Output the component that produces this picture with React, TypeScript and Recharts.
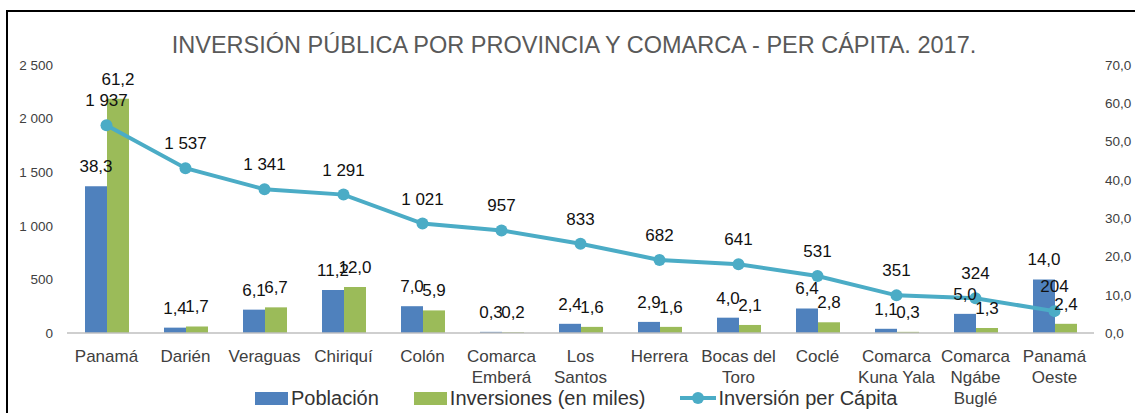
import { ComposedChart, Bar, Line, XAxis, YAxis, LabelList, Legend } from 'recharts';

const FONT = '"Liberation Sans", Arial, sans-serif';

const categories = [
  'Panamá',
  'Darién',
  'Veraguas',
  'Chiriquí',
  'Colón',
  'Comarca\nEmberá',
  'Los\nSantos',
  'Herrera',
  'Bocas del\nToro',
  'Coclé',
  'Comarca\nKuna Yala',
  'Comarca\nNgábe\nBuglé',
  'Panamá\nOeste',
];
const poblacion = [38.3, 1.4, 6.1, 11.2, 7.0, 0.3, 2.4, 2.9, 4.0, 6.4, 1.1, 5.0, 14.0];
const inversiones = [61.2, 1.7, 6.7, 12.0, 5.9, 0.2, 1.6, 1.6, 2.1, 2.8, 0.3, 1.3, 2.4];
const perCapita = [1937, 1537, 1341, 1291, 1021, 957, 833, 682, 641, 531, 351, 324, 204];
const leftTicks = [0, 500, 1000, 1500, 2000, 2500];
const rightTicks = [0, 10, 20, 30, 40, 50, 60, 70];

const BLUE = '#4F81BD';
const GREEN = '#9BBB59';
const TEAL = '#4BACC6';

const data = categories.map((name, i) => ({
  name,
  poblacion: poblacion[i],
  inversiones: inversiones[i],
  perCapita: perCapita[i],
}));

const thousands = (v: number) => String(v).replace(/\B(?=(\d{3})+(?!\d))/g, ' ');
const decimal = (v: number) => v.toFixed(1).replace('.', ',');

function CategoryTick({ x, y, payload }: any) {
  const lines = String(payload.value).split('\n');
  return (
    <text x={x} y={y} textAnchor="middle" fill="#404040" fontSize={17} fontFamily={FONT}>
      {lines.map((l, i) => (
        <tspan key={i} x={x} dy={21}>
          {l}
        </tspan>
      ))}
    </text>
  );
}

function LegendContent() {
  const item = { display: 'flex', alignItems: 'center', marginRight: 35 } as const;
  return (
    <div
      style={{
        display: 'flex',
        alignItems: 'center',
        height: 26,
        marginLeft: 255,
        fontFamily: FONT,
        fontSize: 20,
        color: '#333',
      }}
    >
      <div style={item}>
        <div style={{ width: 33, height: 13, background: BLUE, marginRight: 3 }} />
        Población
      </div>
      <div style={item}>
        <div style={{ width: 33, height: 13, background: GREEN, marginRight: 3 }} />
        Inversiones (en miles)
      </div>
      <div style={item}>
        <svg width={36} height={14} style={{ marginRight: 2 }}>
          <line x1={0} y1={7} x2={36} y2={7} stroke={TEAL} strokeWidth={4} />
          <circle cx={18} cy={7} r={6} fill={TEAL} />
        </svg>
        Inversión per Cápita
      </div>
    </div>
  );
}

export default function App() {
  return (
    <div style={{ position: 'absolute', left: 0, top: 0, width: 1135, height: 413, background: '#fff', overflow: 'hidden' }}>
      <div
        style={{
          position: 'absolute',
          left: 6,
          top: 10,
          width: 2000,
          height: 1000,
          borderLeft: '2px solid #000',
          borderTop: '2px solid #000',
        }}
      />
      <div
        style={{
          position: 'absolute',
          left: 0,
          top: 33,
          width: 1148,
          textAlign: 'center',
          fontFamily: FONT,
          fontSize: 23.5,
          lineHeight: '24px',
          color: '#595959',
          whiteSpace: 'nowrap',
        }}
      >
        INVERSIÓN PÚBLICA POR PROVINCIA Y COMARCA - PER CÁPITA. 2017.
      </div>
      <div style={{ position: 'absolute', left: 0, top: 0 }}>
        <ComposedChart
          width={1135}
          height={413}
          data={data}
          margin={{ top: 65, right: 0, left: 0, bottom: 2 }}
          barGap={0}
        >
          <XAxis
            dataKey="name"
            interval={0}
            tick={<CategoryTick />}
            tickLine={false}
            axisLine={{ stroke: '#BFBFBF', strokeWidth: 1.5 }}
            height={52}
          />
          <YAxis
            yAxisId="left"
            orientation="left"
            domain={[0, 2500]}
            ticks={leftTicks}
            tickFormatter={thousands}
            width={67}
            axisLine={false}
            tickLine={false}
            tickMargin={8}
            tick={{ fill: '#404040', fontSize: 13.5, fontFamily: FONT }}
          />
          <YAxis
            yAxisId="right"
            orientation="right"
            domain={[0, 70]}
            ticks={rightTicks}
            tickFormatter={decimal}
            width={41}
            axisLine={false}
            tickLine={false}
            tickMargin={5}
            tick={{ fill: '#404040', fontSize: 13.5, fontFamily: FONT }}
          />
          <Legend verticalAlign="bottom" height={26} content={<LegendContent />} />
          <Bar yAxisId="right" dataKey="poblacion" name="Población" fill={BLUE} barSize={22} isAnimationActive={false}>
            <LabelList
              dataKey="poblacion"
              position="top"
              offset={14}
              formatter={(v: any) => decimal(Number(v))}
              style={{ fill: '#111', fontSize: 17, fontFamily: FONT }}
            />
          </Bar>
          <Bar yAxisId="right" dataKey="inversiones" name="Inversiones (en miles)" fill={GREEN} barSize={22} isAnimationActive={false}>
            <LabelList
              dataKey="inversiones"
              position="top"
              offset={14}
              formatter={(v: any) => decimal(Number(v))}
              style={{ fill: '#111', fontSize: 17, fontFamily: FONT }}
            />
          </Bar>
          <Line
            yAxisId="left"
            type="linear"
            dataKey="perCapita"
            name="Inversión per Cápita"
            stroke={TEAL}
            strokeWidth={4}
            dot={{ r: 6, fill: TEAL, stroke: TEAL, strokeWidth: 0 }}
            activeDot={false}
            isAnimationActive={false}
          >
            <LabelList
              dataKey="perCapita"
              position="top"
              offset={19}
              formatter={(v: any) => thousands(Number(v))}
              style={{ fill: '#111', fontSize: 17, fontFamily: FONT }}
            />
          </Line>
        </ComposedChart>
      </div>
    </div>
  );
}
